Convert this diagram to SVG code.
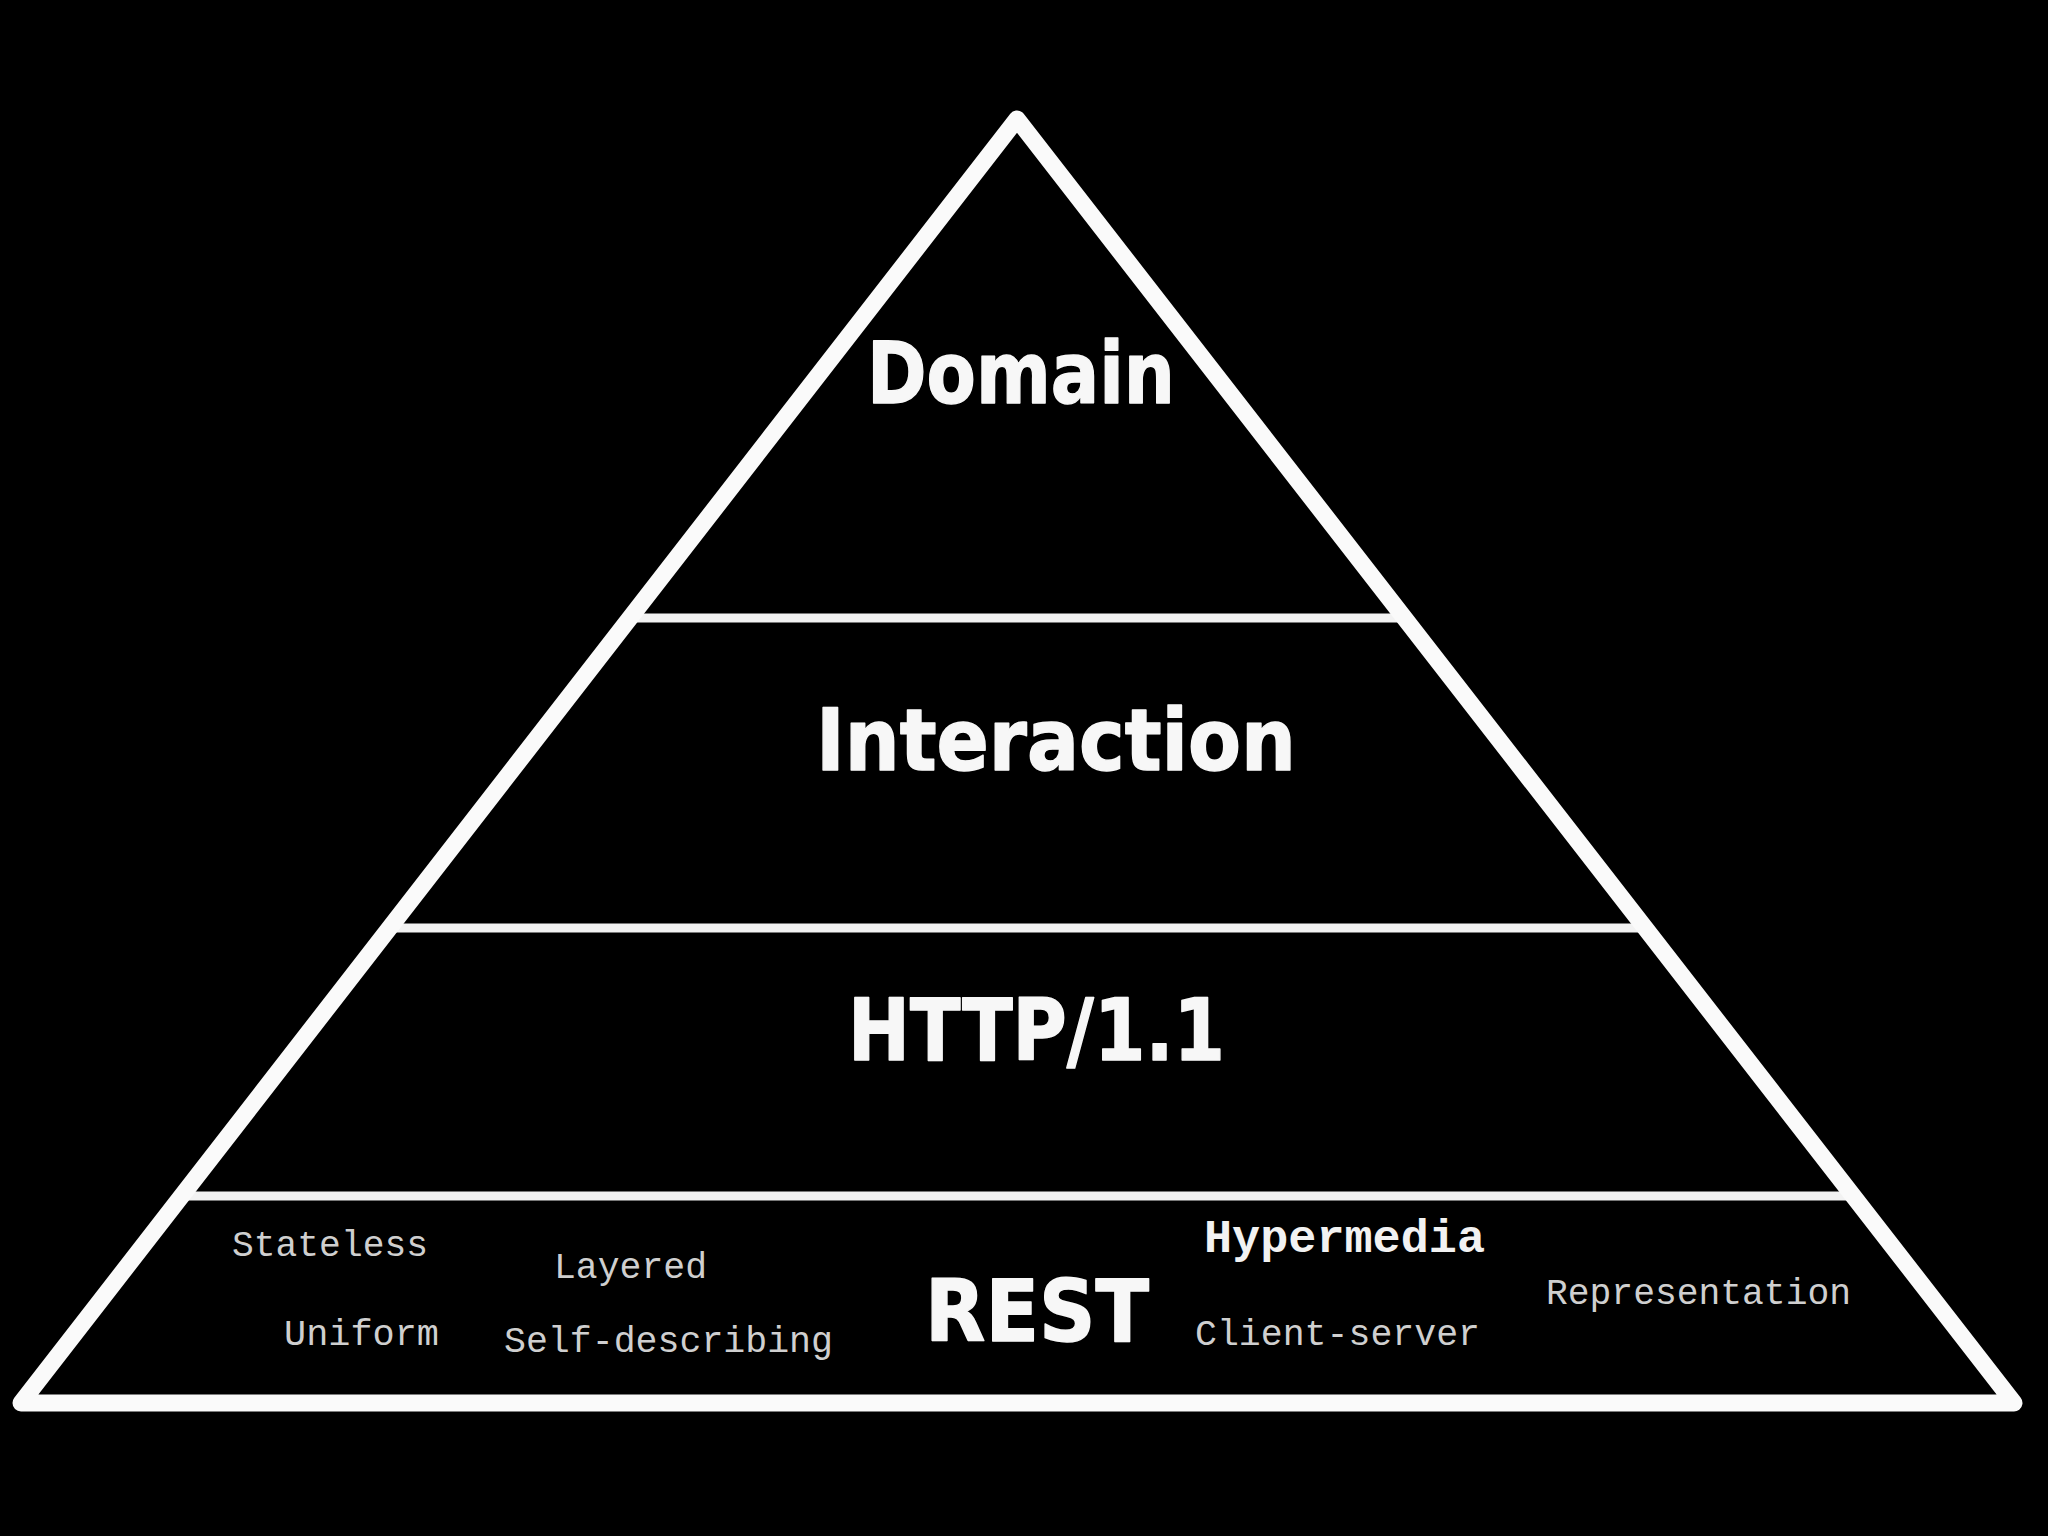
<svg xmlns="http://www.w3.org/2000/svg" width="2048" height="1536" viewBox="0 0 2048 1536">
  <style>
    .outline { fill: none; stroke: #fafafa; stroke-width: 17; stroke-linejoin: round; }
    .divider { stroke: #f2f2f2; stroke-width: 9; }
    .big { font-family: "DejaVu Sans", "Open Sans", sans-serif; font-weight: bold; font-size: 86px; fill: #f7f7f7; stroke: #f7f7f7; stroke-width: 1.5; stroke-linejoin: round; }
    .mono { font-family: "Liberation Mono", "DejaVu Sans Mono", monospace; font-size: 36px; fill: #cfcfcf; }
    .monob { font-family: "Liberation Mono", "DejaVu Sans Mono", monospace; font-size: 46px; font-weight: bold; fill: #f2f2f2; }
  </style>
  <rect width="2048" height="1536" fill="#000"/>
  <g id="connectors">
    <line class="divider" x1="630" y1="618" x2="1404" y2="618"/>
    <line class="divider" x1="390" y1="928" x2="1645" y2="928"/>
    <line class="divider" x1="180" y1="1196" x2="1855" y2="1196"/>
  </g>
  <g id="pyramid">
    <polygon class="outline" points="1017,119 2014,1403 21,1403"/>
  </g>
  <g id="domain">
    <text class="big" x="867" y="403" textLength="308" lengthAdjust="spacingAndGlyphs">Domain</text>
  </g>
  <g id="interaction">
    <text class="big" x="816" y="770" textLength="480" lengthAdjust="spacingAndGlyphs">Interaction</text>
  </g>
  <g id="http">
    <text class="big" x="848" y="1060" textLength="377" lengthAdjust="spacingAndGlyphs">HTTP/1.1</text>
  </g>
  <g id="rest">
    <text class="big" x="925" y="1341" textLength="224" lengthAdjust="spacingAndGlyphs">REST</text>
    <text class="mono" x="232" y="1256" textLength="196" lengthAdjust="spacingAndGlyphs">Stateless</text>
    <text class="mono" x="554" y="1278" textLength="153" lengthAdjust="spacingAndGlyphs">Layered</text>
    <text class="mono" x="284" y="1345" textLength="155" lengthAdjust="spacingAndGlyphs">Uniform</text>
    <text class="mono" x="504" y="1352" textLength="329" lengthAdjust="spacingAndGlyphs">Self-describing</text>
    <text class="monob" x="1204" y="1252" textLength="281" lengthAdjust="spacingAndGlyphs">Hypermedia</text>
    <text class="mono" x="1195" y="1345" textLength="285" lengthAdjust="spacingAndGlyphs">Client-server</text>
    <text class="mono" x="1546" y="1304" textLength="305" lengthAdjust="spacingAndGlyphs">Representation</text>
  </g>
</svg>
